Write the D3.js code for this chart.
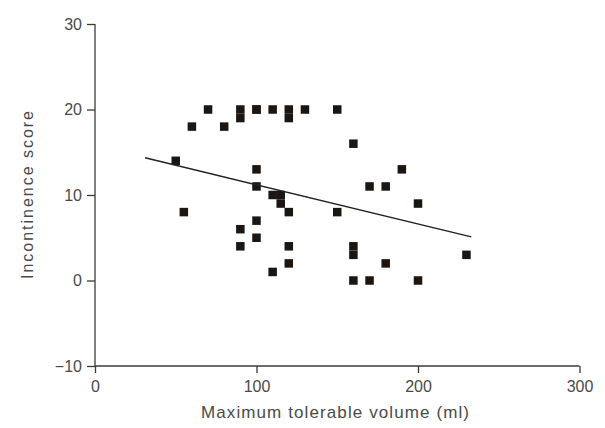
<!DOCTYPE html>
<html>
<head>
<meta charset="utf-8">
<script src="https://cdn.jsdelivr.net/npm/d3@7"></script>
<style>
  body { margin: 0; background: #fff; }
  svg { display: block; font-family: "Liberation Sans", Arial, sans-serif; }
</style>
</head>
<body>
<div id="chart"></div>
<script>
// Data
const volume = [50, 55, 60, 70, 80, 90, 90, 90, 90, 100, 100, 100, 100, 100, 100,
  110, 110, 110, 115, 115, 120, 120, 120, 120, 120, 130, 150, 150,
  160, 160, 160, 160, 170, 170, 180, 180, 190, 200, 200, 230];
const score = [14, 8, 18, 20, 18, 20, 19, 6, 4, 20, 13, 11, 7, 5, 20,
  20, 10, 1, 10, 9, 20, 19, 8, 4, 2, 20, 20, 8,
  16, 4, 3, 0, 11, 0, 11, 2, 13, 9, 0, 3];
// regression line end points as drawn
const fitX = [31, 233];
const fitY = [14.35, 5.1];
const xTicks = [0, 100, 200, 300];
const yTicks = [-10, 0, 10, 20, 30];

const W = 605, H = 428;
const svg = d3.select("#chart").append("svg")
  .attr("width", W).attr("height", H);

const x = d3.scaleLinear().domain([0, 300]).range([95, 579.5]);
const y = d3.scaleLinear().domain([-10, 30]).range([366, 24]);

const axisColor = "#3a3a3a";
const textColor = "#4a4a4a";

// y axis
const yAxis = svg.append("g")
  .attr("transform", `translate(${x(0)},0)`)
  .call(d3.axisLeft(y).tickValues(yTicks).tickSize(8).tickPadding(5)
    .tickFormat(d => d < 0 ? "\u2212" + Math.abs(d) : d));
yAxis.select(".domain").attr("d", `M0,${y(30)}V${y(-10)}`);

// x axis
const xAxis = svg.append("g")
  .attr("transform", `translate(0,${y(-10)})`)
  .call(d3.axisBottom(x).tickValues(xTicks).tickSize(7).tickPadding(8));
xAxis.select(".domain").attr("d", `M${x(0)},0H${x(300)}`);

svg.selectAll(".domain, .tick line")
  .attr("stroke", axisColor).attr("stroke-width", 1.3);
svg.selectAll(".tick text")
  .attr("fill", textColor).style("font-size", "16px");

// axis titles
svg.append("text")
  .attr("x", 335).attr("y", 418)
  .attr("text-anchor", "middle")
  .attr("fill", textColor)
  .style("font-size", "17px")
  .attr("textLength", 268)
  .text("Maximum tolerable volume (ml)");

svg.append("text")
  .attr("transform", `translate(33,195) rotate(-90)`)
  .attr("text-anchor", "middle")
  .attr("fill", textColor)
  .style("font-size", "16px")
  .attr("textLength", 168)
  .text("Incontinence score");

// points
const s = 8.5;
svg.append("g").selectAll("rect")
  .data(volume.map((v, i) => ({ v, sc: score[i] })))
  .join("rect")
  .attr("x", d => x(d.v) - s / 2)
  .attr("y", d => y(d.sc) - s / 2)
  .attr("width", s).attr("height", s)
  .attr("fill", "#1c1612");

// fitted line
svg.append("path")
  .datum(fitX.map((v, i) => [v, fitY[i]]))
  .attr("fill", "none")
  .attr("stroke", "#222")
  .attr("stroke-width", 1.5)
  .attr("d", d3.line().x(d => x(d[0])).y(d => y(d[1])));
</script>
</body>
</html>
